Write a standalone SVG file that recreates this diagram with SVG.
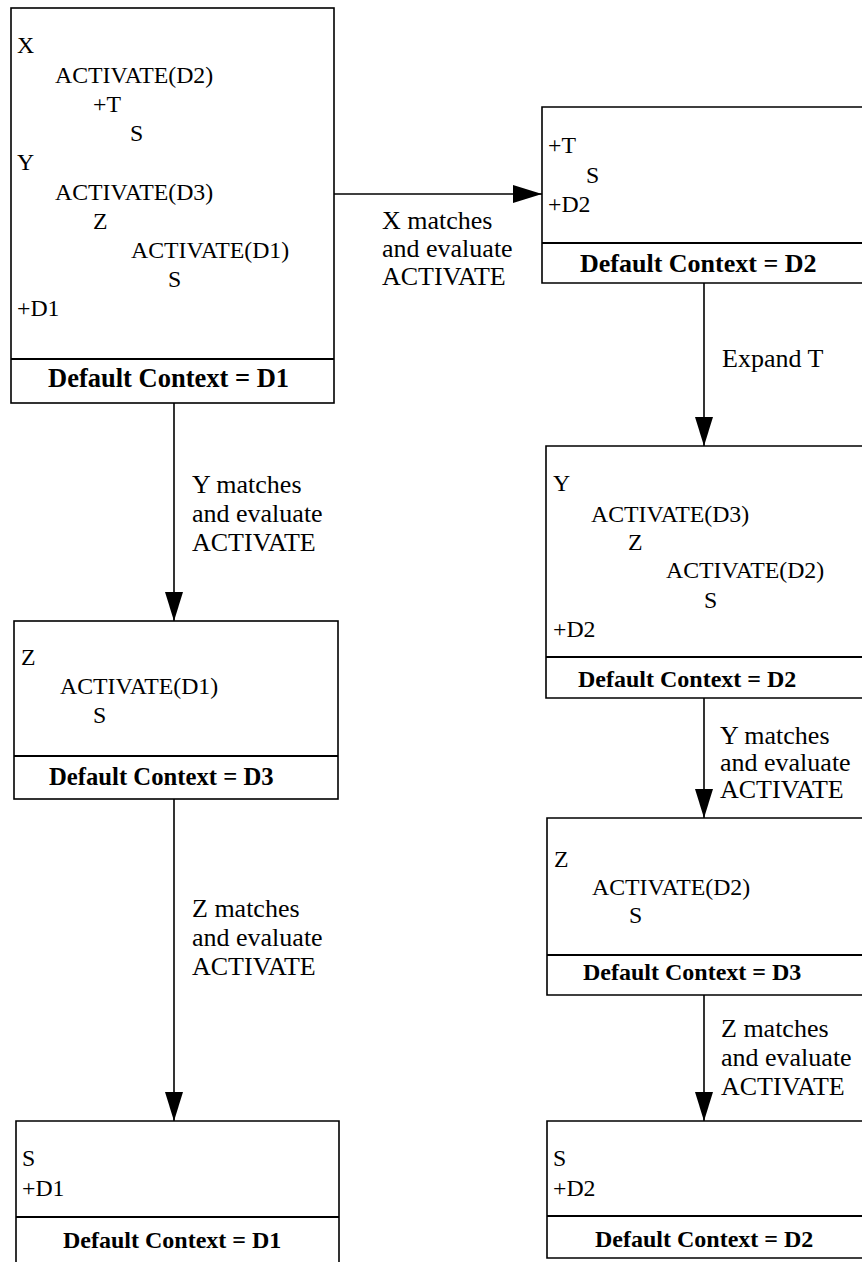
<svg xmlns="http://www.w3.org/2000/svg" width="862" height="1262" viewBox="0 0 862 1262">
<style>
.box{fill:none;stroke:#000;stroke-width:1.6}
.sep{fill:none;stroke:#000;stroke-width:2}
.code{font-family:"Liberation Serif","Times New Roman",serif;font-size:23.8px;fill:#000}
.foot{font-family:"Liberation Serif","Times New Roman",serif;font-weight:bold;fill:#000}
.lbl{font-family:"Liberation Serif","Times New Roman",serif;font-size:26px;fill:#000}
.conn{stroke:#000;stroke-width:1.6;fill:none;marker-end:url(#arr)}
</style>
<defs>
<marker id="arr" viewBox="0 0 29 18" refX="29" refY="9" markerWidth="29" markerHeight="18" markerUnits="userSpaceOnUse" orient="auto">
<path d="M0,0 L29,9 L0,18 z" fill="#000"/>
</marker>
</defs>
<rect width="862" height="1262" fill="#fff"/>

<g id="connectors">
<line class="conn" x1="334" y1="194" x2="542" y2="194"/>
<line class="conn" x1="174" y1="403" x2="174" y2="621"/>
<line class="conn" x1="174" y1="799" x2="174" y2="1121"/>
<line class="conn" x1="704" y1="283" x2="704" y2="446"/>
<line class="conn" x1="704" y1="698" x2="704" y2="818"/>
<line class="conn" x1="704" y1="995" x2="704" y2="1121"/>
<g class="lbl">
<text x="382" y="229">X matches</text>
<text x="382" y="257">and evaluate</text>
<text x="382" y="285">ACTIVATE</text>
<text x="192" y="493">Y matches</text>
<text x="192" y="522">and evaluate</text>
<text x="192" y="551">ACTIVATE</text>
<text x="192" y="917">Z matches</text>
<text x="192" y="946">and evaluate</text>
<text x="192" y="975">ACTIVATE</text>
<text x="722" y="367">Expand T</text>
<text x="720" y="744">Y matches</text>
<text x="720" y="771">and evaluate</text>
<text x="720" y="798">ACTIVATE</text>
<text x="721" y="1037">Z matches</text>
<text x="721" y="1066">and evaluate</text>
<text x="721" y="1095">ACTIVATE</text>
</g>
</g>

<g id="node-L1">
<rect class="box" x="11" y="8" width="323" height="395"/>
<line class="sep" x1="11" y1="359" x2="334" y2="359"/>
<g class="code">
<text x="17" y="53">X</text>
<text x="55" y="83">ACTIVATE(D2)</text>
<text x="93" y="112">+T</text>
<text x="130" y="141">S</text>
<text x="17" y="170">Y</text>
<text x="55" y="200">ACTIVATE(D3)</text>
<text x="93" y="229">Z</text>
<text x="131" y="258">ACTIVATE(D1)</text>
<text x="168" y="287">S</text>
<text x="17" y="316">+D1</text>
</g>
<text class="foot" x="48" y="387" font-size="26.5">Default Context = D1</text>
</g>

<g id="node-L2">
<rect class="box" x="14" y="621" width="324" height="178"/>
<line class="sep" x1="14" y1="756" x2="338" y2="756"/>
<g class="code">
<text x="21" y="665">Z</text>
<text x="60" y="694">ACTIVATE(D1)</text>
<text x="93" y="723">S</text>
</g>
<text class="foot" x="49" y="785" font-size="24.7">Default Context = D3</text>
</g>

<g id="node-L3">
<path class="box" d="M16,1263 L16,1121 L339,1121 L339,1263"/>
<line class="sep" x1="16" y1="1217" x2="339" y2="1217"/>
<g class="code">
<text x="22" y="1166">S</text>
<text x="22" y="1196">+D1</text>
</g>
<text class="foot" x="63" y="1248" font-size="24">Default Context = D1</text>
</g>

<g id="node-R1">
<path class="box" d="M863,107 L542,107 L542,283 L863,283"/>
<line class="sep" x1="542" y1="243" x2="863" y2="243"/>
<g class="code">
<text x="548" y="153">+T</text>
<text x="586" y="183">S</text>
<text x="548" y="212">+D2</text>
</g>
<text class="foot" x="580" y="272" font-size="26">Default Context = D2</text>
</g>

<g id="node-R2">
<path class="box" d="M863,446 L546,446 L546,698 L863,698"/>
<line class="sep" x1="546" y1="657" x2="863" y2="657"/>
<g class="code">
<text x="553" y="491">Y</text>
<text x="591" y="522">ACTIVATE(D3)</text>
<text x="628" y="550">Z</text>
<text x="666" y="578">ACTIVATE(D2)</text>
<text x="704" y="608">S</text>
<text x="553" y="637">+D2</text>
</g>
<text class="foot" x="578" y="687" font-size="24">Default Context = D2</text>
</g>

<g id="node-R3">
<path class="box" d="M863,818 L547,818 L547,995 L863,995"/>
<line class="sep" x1="547" y1="955" x2="863" y2="955"/>
<g class="code">
<text x="554" y="867">Z</text>
<text x="592" y="895">ACTIVATE(D2)</text>
<text x="629" y="923">S</text>
</g>
<text class="foot" x="583" y="980" font-size="24">Default Context = D3</text>
</g>

<g id="node-R4">
<path class="box" d="M863,1121 L547,1121 L547,1258 L863,1258"/>
<line class="sep" x1="547" y1="1216" x2="863" y2="1216"/>
<g class="code">
<text x="553" y="1166">S</text>
<text x="553" y="1196">+D2</text>
</g>
<text class="foot" x="595" y="1247" font-size="24">Default Context = D2</text>
</g>
</svg>
